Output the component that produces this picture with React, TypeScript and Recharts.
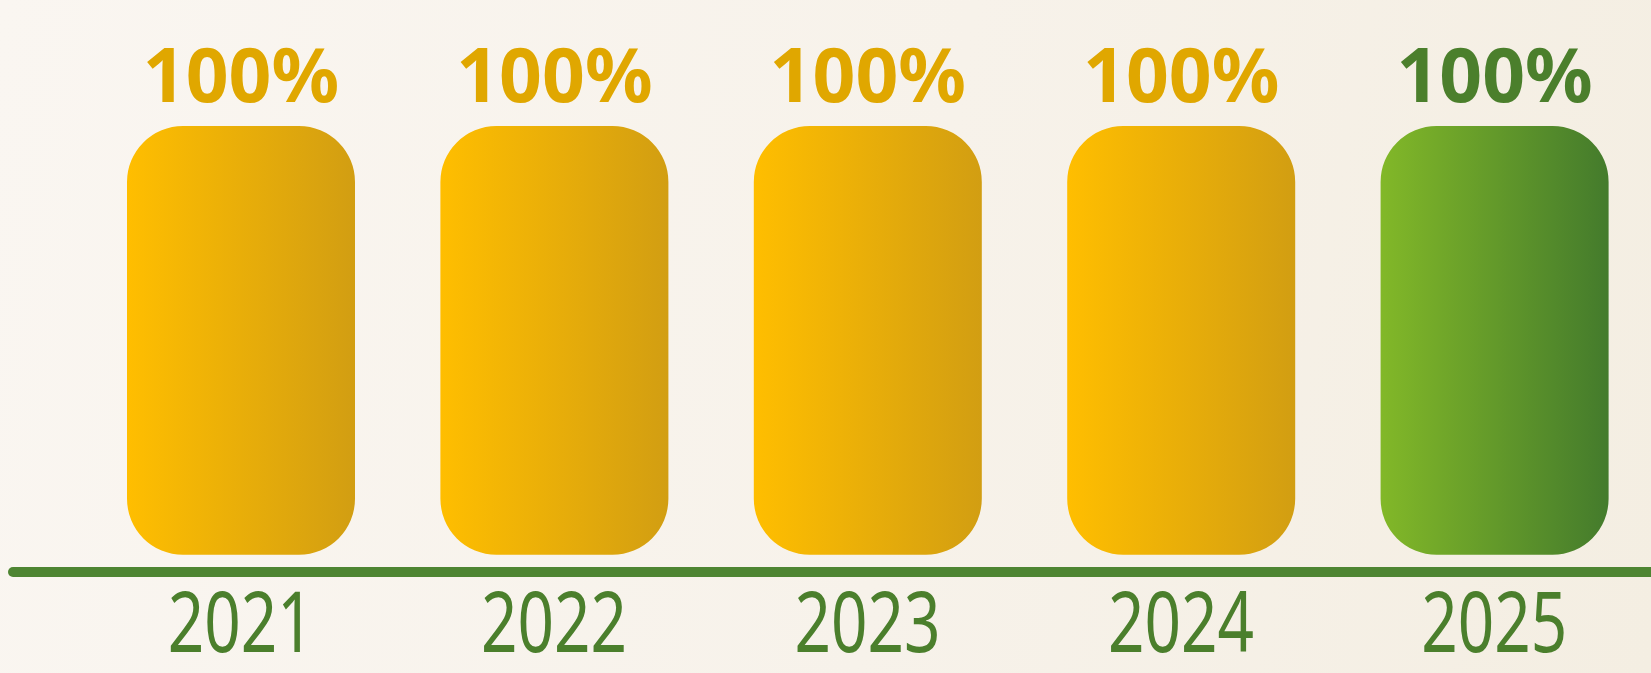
import { Bar, BarChart, Cell, LabelList, XAxis, YAxis } from 'recharts';

const years = ['2021', '2022', '2023', '2024', '2025'];
const completion = [100, 100, 100, 100, 100];
const highlightYear = '2025';

const chartData = years.map((year, i) => ({ year, value: completion[i] }));

const GOLD = '#E0A700';
const GREEN = '#4B7F2C';
const AXIS_GREEN = '#4E8532';

function YearTick({ x, y, payload }: any) {
    // the year labels in the source are tall and narrow: squeeze them to width
    return (
        <text
            x={x}
            y={y + 72}
            textAnchor="middle"
            fontFamily="'Noto Sans', sans-serif"
            fontSize={84}
            textLength={146}
            lengthAdjust="spacingAndGlyphs"
            fill={GREEN}
        >
            {payload.value}
        </text>
    );
}

function ValueLabel({ x, y, width, value, index }: any) {
    const color = years[index] === highlightYear ? GREEN : GOLD;
    return (
        <text
            x={Number(x) + Number(width) / 2}
            y={Number(y) - 24}
            textAnchor="middle"
            fontFamily="'Noto Sans', sans-serif"
            fontWeight={700}
            fontSize={75}
            fill={color}
        >
            {`${value}%`}
        </text>
    );
}

export default function App() {
    return (
        <div
            style={{
                position: 'fixed',
                left: 0,
                top: 0,
                width: 1651,
                height: 673,
                background: 'linear-gradient(100deg, #FAF6F1 0%, #F7F2EA 55%, #F4EEE2 100%)',
            }}
        >
            <BarChart
                width={1651}
                height={673}
                data={chartData}
                margin={{ top: 126, right: 0, bottom: 11, left: 13 }}
            >
                <defs>
                    <linearGradient id="goldFill" x1="0" y1="0" x2="1" y2="0">
                        <stop offset="0%" stopColor="#FFBE00" />
                        <stop offset="100%" stopColor="#D29E12" />
                    </linearGradient>
                    <linearGradient id="greenFill" x1="0" y1="0" x2="1" y2="0">
                        <stop offset="0%" stopColor="#82B828" />
                        <stop offset="100%" stopColor="#447B2C" />
                    </linearGradient>
                </defs>
                <YAxis hide domain={[-4, 100]} />
                <XAxis
                    dataKey="year"
                    height={90}
                    padding={{ left: 71, right: 0 }}
                    tickLine={false}
                    axisLine={{ stroke: AXIS_GREEN, strokeWidth: 10, strokeLinecap: 'round' }}
                    tick={YearTick}
                    interval={0}
                />
                <Bar dataKey="value" barSize={228} radius={56} isAnimationActive={false}>
                    {chartData.map((d) => (
                        <Cell
                            key={d.year}
                            fill={d.year === highlightYear ? 'url(#greenFill)' : 'url(#goldFill)'}
                        />
                    ))}
                    <LabelList dataKey="value" content={ValueLabel} />
                </Bar>
            </BarChart>
        </div>
    );
}
